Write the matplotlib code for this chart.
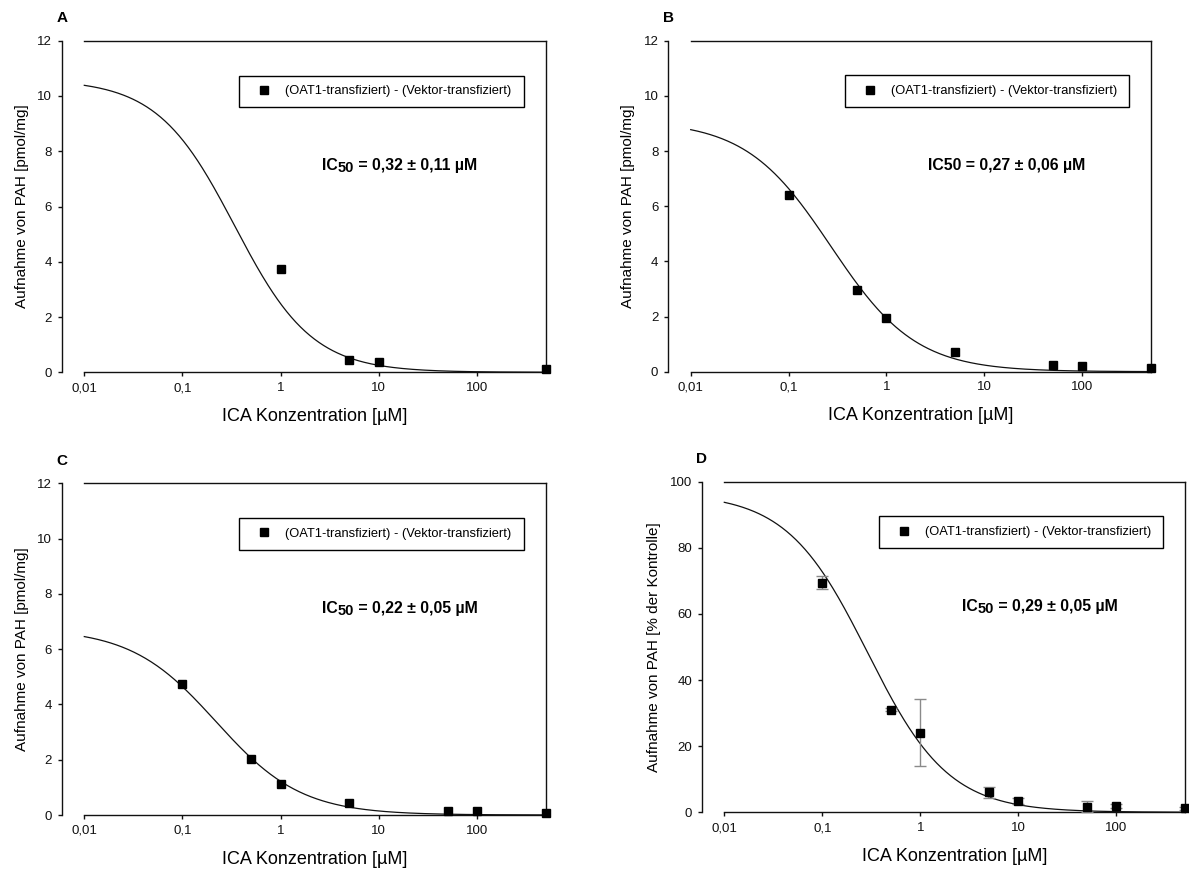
import numpy as np
import matplotlib
matplotlib.use("Agg")
import matplotlib.pyplot as plt
from matplotlib.lines import Line2D

plt.rcParams['font.family'] = ['Liberation Sans', 'DejaVu Sans']

# ---------------- data ----------------
panel_labels = ["A", "B", "C", "D"]

conc_A = [1, 5, 10, 500]
uptake_A = [3.73, 0.43, 0.36, 0.11]

conc_B = [0.1, 0.5, 1, 5, 50, 100, 500]
uptake_B = [6.39, 2.98, 1.95, 0.72, 0.23, 0.20, 0.14]

conc_C = [0.1, 0.5, 1, 5, 50, 100, 500]
uptake_C = [4.74, 2.03, 1.11, 0.42, 0.16, 0.16, 0.06]

conc_D = [0.1, 0.5, 1, 5, 10, 50, 100, 500]
uptake_D = [69.5, 31.0, 24.1, 6.0, 3.4, 1.7, 1.8, 1.2]
err_D = [2.0, 0.5, 10.1, 1.6, 0.9, 1.6, 0.6, 0.4]

# fitted logistic curve parameters (top, IC50, hill) per panel
fit_top = [10.6, 9.1, 6.75, 96.5]
fit_ic50 = [0.34, 0.27, 0.22, 0.29]
fit_hill = [1.1, 1.0, 1.0, 1.05]

# IC50 annotation: (prefix, subscript, rest)
ic50_parts = [("IC", "50", " = 0,32 ± 0,11 µM"),
              ("IC50 = 0,27 ± 0,06 µM", "", ""),
              ("IC", "50", " = 0,22 ± 0,05 µM"),
              ("IC", "50", " = 0,29 ± 0,05 µM")]

y_labels = ["Aufnahme von PAH [pmol/mg]", "Aufnahme von PAH [pmol/mg]",
            "Aufnahme von PAH [pmol/mg]", "Aufnahme von PAH [% der Kontrolle]"]
x_label = "ICA Konzentration [µM]"
legend_label = "(OAT1-transfiziert) - (Vektor-transfiziert)"

x_ticks = [0.01, 0.1, 1, 10, 100]
x_ticklabels = ["0,01", "0,1", "1", "10", "100"]
y_ticks_pmol = [0, 2, 4, 6, 8, 10, 12]
y_ticks_pct = [0, 20, 40, 60, 80, 100]

# ---------------- layout ----------------
W, H = 1189, 873
fig = plt.figure(figsize=(W / 100, H / 100), dpi=100)

rects_px = [(84.3, 40.7, 545.7, 372.3),
            (690.7, 40.7, 1150.7, 371.7),
            (84.3, 483.4, 545.7, 815.0),
            (724.3, 481.7, 1185.0, 812.3)]

datasets = [(conc_A, uptake_A, None), (conc_B, uptake_B, None),
            (conc_C, uptake_C, None), (conc_D, uptake_D, err_D)]

for i, (l, t, r, b) in enumerate(rects_px):
    ax = fig.add_axes([l / W, 1 - b / H, (r - l) / W, (b - t) / H])
    conc, upt, err = datasets[i]
    ax.set_xscale('log')
    ax.set_xlim(0.01, 500)
    if i < 3:
        ax.set_ylim(0, 12)
        ax.set_yticks(y_ticks_pmol)
    else:
        ax.set_ylim(0, 100)
        ax.set_yticks(y_ticks_pct)
    ax.set_xticks(x_ticks)
    ax.set_xticklabels(x_ticklabels)
    ax.xaxis.set_minor_locator(matplotlib.ticker.NullLocator())

    for s in ax.spines.values():
        s.set_linewidth(1.0)
        s.set_color('#111111')
    ax.spines['left'].set_position(('outward', 16.3))
    ax.tick_params(axis='both', direction='out', length=3, width=1.0,
                   labelsize=9.5, colors='#111111', pad=4)

    # fitted curve
    xc = np.logspace(-2, np.log10(500), 400)
    yc = fit_top[i] / (1 + (xc / fit_ic50[i]) ** fit_hill[i])
    ax.plot(xc, yc, color='#111111', lw=0.9, clip_on=False, zorder=2)

    if err is not None:
        ax.errorbar(conc, upt, yerr=err, fmt='none', ecolor='#8a8a8a',
                    elinewidth=1.0, capsize=4, capthick=1.0, zorder=3,
                    clip_on=False)
    ax.plot(conc, upt, 's', color='black', markersize=5.8, zorder=4,
            clip_on=False)

    ax.set_ylabel(y_labels[i], fontsize=11, labelpad=6)
    ax.set_xlabel(x_label, fontsize=13, labelpad=10)

    handle = Line2D([], [], marker='s', color='black', linestyle='none',
                    markersize=5.8)
    leg = ax.legend([handle], [legend_label], loc='upper left',
                    bbox_to_anchor=(0.335, 0.895, 0.618, 0.0), mode='expand',
                    fontsize=9.3, frameon=True, fancybox=False, framealpha=1,
                    edgecolor='black', borderpad=0.75, handlelength=2.4,
                    handletextpad=0.45, borderaxespad=0.0)
    leg.get_frame().set_linewidth(1.0)

    pre, sub, rest = ic50_parts[i]
    t1 = ax.text(0.515, 0.61, pre, transform=ax.transAxes,
                 fontsize=11.4, fontweight='bold', ha='left', va='baseline')
    if sub:
        t2 = ax.annotate(sub, xy=(1, 0), xycoords=t1, xytext=(0.3, -1.5),
                         textcoords='offset points', fontsize=10.5,
                         fontweight='bold', ha='left', va='bottom')
        ax.annotate(rest, xy=(1, 0), xycoords=t2, xytext=(0, 1.5),
                    textcoords='offset points', fontsize=11.4,
                    fontweight='bold', ha='left', va='bottom')

    # panel label above the y axis spine
    lx = (l - 22.6) / W
    fig.text(lx, 1 - (t - 22.5) / H, panel_labels[i], fontsize=11,
             fontweight='bold', ha='center', va='center')

fig.savefig("out.png", dpi=100)
